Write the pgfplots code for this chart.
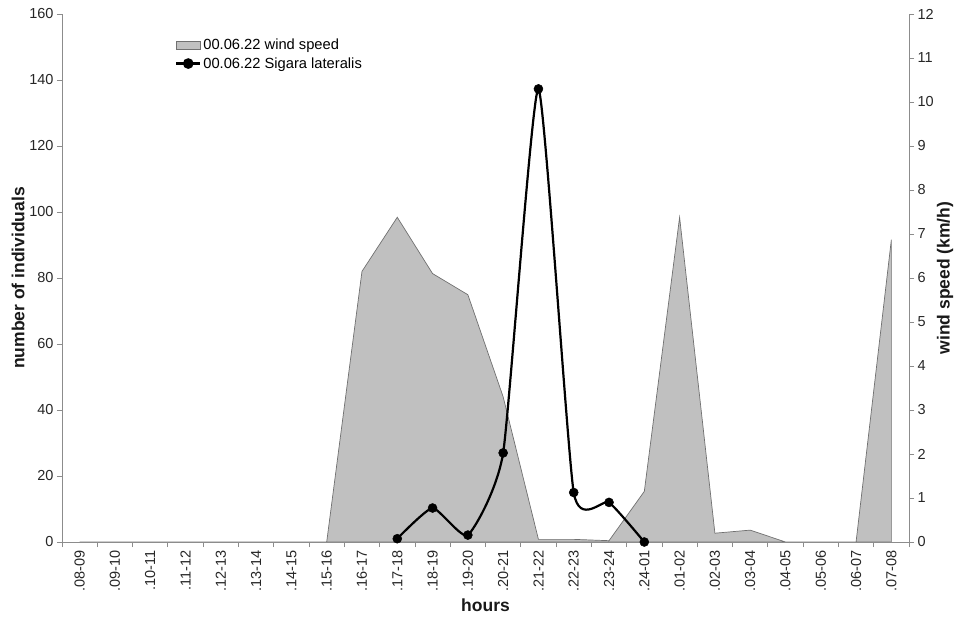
\documentclass[border=0pt]{standalone}
\usepackage{pgfplots}
\pgfplotsset{compat=1.18}
\usepackage{pgfplotstable}
\usepackage{fontspec}
\setmainfont{Liberation Sans}

\definecolor{areagray}{HTML}{C0C0C0}
\definecolor{areaedge}{HTML}{707070}
\definecolor{axgray}{HTML}{8C8C8C}

\pgfplotsset{
  myline legend/.style={legend image code/.code={\draw[black, line width=2.2pt] (0pt,0pt) -- (24pt,0pt); \fill[black] (12pt,0pt) circle (4.2pt);}},
  myarea legend/.style={legend image code/.code={\draw[fill=areagray, draw=areaedge, line width=0.7pt] (0pt,-4pt) rectangle (24pt,4pt);}},
}

\pgfplotstableread{
x wind
0 0
1 0
2 0
3 0
4 0
5 0
6 0
7 0
8 6.15
9 7.38
10 6.10
11 5.62
12 3.30
13 0.06
14 0.06
15 0.03
16 1.15
17 7.38
18 0.20
19 0.27
20 0
21 0
22 0
23 6.87
}\winddata

\pgfplotstableread{
x n
9 1
10 10.3
11 2.1
12 27
13 137.3
14 15
15 12
16 0
}\sigdata

\begin{document}
\begin{tikzpicture}
\pgfplotsset{
  base/.style={
    scale only axis, width=847pt, height=528pt,
    at={(0pt,0pt)}, anchor=south west,
    xmin=-0.5, xmax=23.5,
    axis line style={axgray, line width=0.9pt},
    tick style={axgray, line width=0.8pt},
    tick align=outside,
    major tick length=5pt, minor tick length=5pt,
    tick label style={font=\fontsize{14.5}{16}\selectfont, text=black!85},
    /pgf/number format/assume math mode=true,
  }
}
% wind speed (right axis, drawn first, behind)
\begin{axis}[base,
  hide x axis,
  axis y line*=right,
  ymin=0, ymax=12, ytick={0,1,...,12},
  every axis y label/.style={at={(rel axis cs:1,0.5)}, xshift=36pt, rotate=90, anchor=center,
    font=\fontsize{17.5}{20}\selectfont\bfseries, text=black!90},
  ylabel={wind speed (km/h)},
]
\addplot[fill=areagray, draw=areaedge, line width=0.7pt] table[x=x, y=wind]{\winddata} \closedcycle;
\end{axis}
% individuals (left axis)
\begin{axis}[base,
  axis y line*=left, axis x line*=bottom,
  ymin=0, ymax=160, ytick={0,20,...,160},
  xtick={0,1,...,23},
  xticklabels={.08-09,.09-10,.10-11,.11-12,.12-13,.13-14,.14-15,.15-16,.16-17,.17-18,.18-19,.19-20,.20-21,.21-22,.22-23,.23-24,.24-01,.01-02,.02-03,.03-04,.04-05,.05-06,.06-07,.07-08},
  major x tick style={draw=none},
  minor xtick={-0.5,0.5,...,23.5},
  xticklabel style={rotate=90, anchor=east},
  every axis y label/.style={at={(rel axis cs:0,0.5)}, xshift=-44pt, rotate=90, anchor=center,
    font=\fontsize{17.5}{20}\selectfont\bfseries, text=black!90},
  every axis x label/.style={at={(rel axis cs:0.5,0)}, yshift=-63pt, anchor=center,
    font=\fontsize{17.5}{20}\selectfont\bfseries, text=black!90},
  ylabel={number of individuals},
  xlabel={hours},
  legend style={at={(rel axis cs:0.131,0.96)}, anchor=north west, draw=none, fill=none,
    font=\fontsize{14.7}{16}\selectfont, row sep=2pt, inner sep=2pt},
  legend cell align=left,
]
\addlegendimage{myarea legend}
\addlegendentry{00.06.22 wind speed}
\addplot[black, line width=2.2pt, smooth, tension=0.3, mark=*, mark size=4.5pt, mark options={line width=0.5pt}, myline legend]
  table[x=x, y=n]{\sigdata};
\addlegendentry{00.06.22 Sigara lateralis}
\end{axis}
\pgfresetboundingbox
\path (-62pt,-74pt) rectangle (893pt,542pt);
\end{tikzpicture}
\end{document}
